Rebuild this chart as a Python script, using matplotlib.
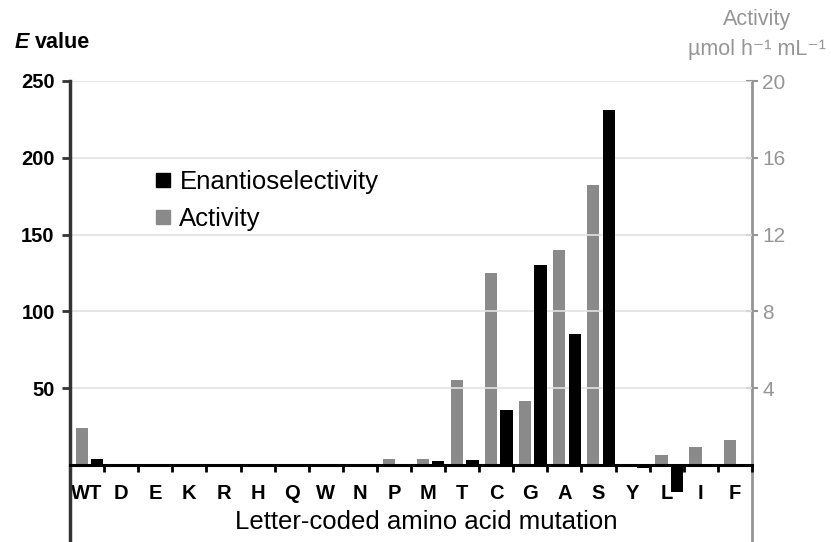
import numpy as np
import matplotlib.pyplot as plt
from matplotlib.lines import Line2D

plt.rcParams['font.family'] = ['Liberation Sans', 'DejaVu Sans']

mutations = ['WT', 'D', 'E', 'K', 'R', 'H', 'Q', 'W', 'N', 'P',
             'M', 'T', 'C', 'G', 'A', 'S', 'Y', 'L', 'I', 'F']
e_values = [4, 0, 0, 0, 0, 0, 0, 0, 0, 0,
            2.5, 3, 35.5, 130, 85.5, 231, -2, -17.5, -1.2, -1.2]
activity = [1.9, 0, 0, 0, 0, 0, 0, 0, 0, 0.3,
            0.3, 4.4, 10.0, 3.3, 11.2, 14.6, 0.03, 0.5, 0.95, 1.3]

grey = '#8a8a8a'
axis_grey = '#959595'

fig = plt.figure(figsize=(8.31, 5.42), dpi=100)
ax = fig.add_axes([70 / 831, 0, 682 / 831, 461 / 542])
ax2 = ax.twinx()
ax.set_zorder(ax2.get_zorder() + 1)
ax.patch.set_visible(False)

x = np.arange(len(mutations))
w = 0.36
ax2.bar(x - 0.155, activity, width=w, color=grey, zorder=2)
ax.bar(x + 0.3, e_values, width=w, color='black', zorder=2)

ax.set_xlim(-0.5, len(mutations) - 0.5)
ax.set_ylim(-50.3, 250)
ax2.set_ylim(-50.3 / 12.5, 20)

# left axis
ax.set_yticks([50, 100, 150, 200, 250])
ax.tick_params(axis='y', direction='out', length=6, width=2, color='#333333',
               labelsize=14.5, pad=5)
for lab in ax.get_yticklabels():
    lab.set_fontweight('bold')
ax.yaxis.grid(True, color='#e2e2e2', linewidth=1.2, zorder=0)
ax.set_axisbelow(True)
ax.spines['left'].set_color('#333333')
ax.spines['left'].set_linewidth(2.5)
ax.spines['right'].set_visible(False)
ax.spines['top'].set_visible(False)
ax.spines['bottom'].set_position(('data', 0))
ax.spines['bottom'].set_linewidth(2.2)
ax.spines['bottom'].set_zorder(3)

# x ticks: marks between categories, labels at centres
ax.set_xticks(np.arange(-0.5, len(mutations)), labels=[])
ax.set_xticks(x, labels=mutations, minor=True)
ax.tick_params(axis='x', which='major', direction='out', length=5, width=2)
ax.tick_params(axis='x', which='minor', length=0, labelsize=14.5, pad=14)
for lab in ax.get_xticklabels(minor=True):
    lab.set_fontweight('bold')

ax.set_xlabel('Letter-coded amino acid mutation', fontsize=18.5)
ax.xaxis.set_label_coords(0.523, 0.043)
ax.xaxis.label.set_va('center')

# right axis
ax2.set_yticks([4, 8, 12, 16, 20])
ax2.tick_params(axis='y', direction='inout', length=9, width=1.5,
                color=axis_grey, labelcolor=axis_grey, labelsize=15, pad=3)
for s in ['left', 'top', 'bottom']:
    ax2.spines[s].set_visible(False)
ax2.spines['right'].set_color(axis_grey)
ax2.spines['right'].set_linewidth(2)

# axis titles
fig.text(15 / 831, 1 - 42 / 542, 'E', fontsize=15.5, fontweight='bold',
         fontstyle='italic', va='center', ha='left')
fig.text(35 / 831, 1 - 42 / 542, 'value', fontsize=15.5, fontweight='bold',
         va='center', ha='left')
fig.text(757 / 831, 1 - 19 / 542, 'Activity', fontsize=15.5, color=axis_grey,
         va='center', ha='center')
fig.text(757 / 831, 1 - 50 / 542, 'µmol h⁻¹ mL⁻¹', fontsize=15.5,
         color=axis_grey, va='center', ha='center')

handles = [Line2D([], [], marker='s', color='black', linestyle='none', markersize=10.5),
           Line2D([], [], marker='s', color=grey, linestyle='none', markersize=10.5)]
ax.legend(handles, ['Enantioselectivity', 'Activity'], loc='upper left',
          bbox_to_anchor=(155 / 831, 1 - 170 / 542), bbox_transform=fig.transFigure,
          frameon=False, fontsize=18.5, handlelength=0.6, handletextpad=0.35,
          labelspacing=0.5, borderpad=0, borderaxespad=0)

fig.savefig('out.png', dpi=100)
plt.close()
